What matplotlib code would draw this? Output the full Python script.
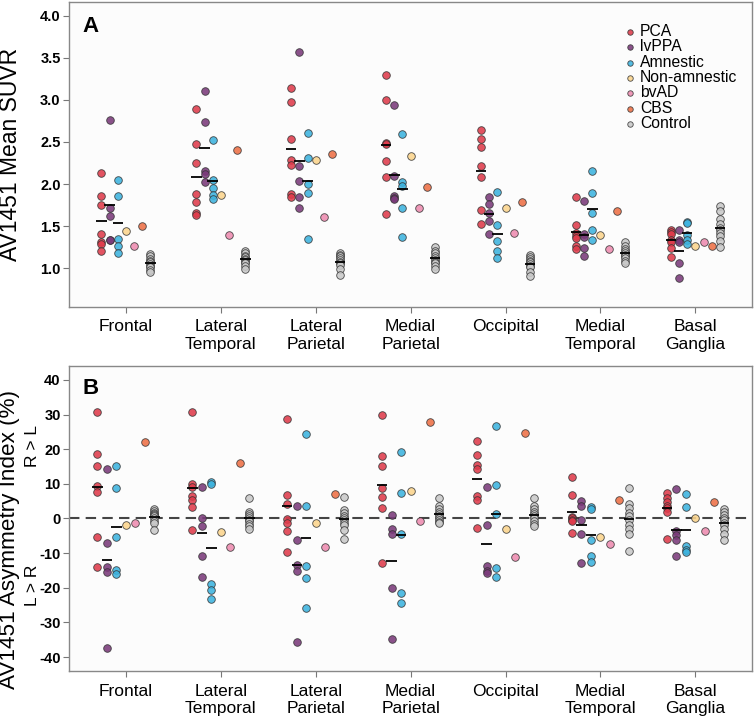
import matplotlib
matplotlib.use("Agg")
import matplotlib.pyplot as plt
import numpy as np

plt.rcParams["font.family"] = ["Liberation Sans", "DejaVu Sans"]
plt.rcParams["axes.unicode_minus"] = False

regions = ["Frontal", "Lateral\nTemporal", "Lateral\nParietal", "Medial\nParietal",
           "Occipital", "Medial\nTemporal", "Basal\nGanglia"]
groups = ["PCA", "lvPPA", "Amnestic", "Non-amnestic", "bvAD", "CBS", "Control"]
colors = ["#df3b4b", "#7a3a7a", "#3db3df", "#fbd58d", "#ee8bb0", "#ee7046", "#c9c9c9"]

# AV1451 mean SUVR, one list per region
suvr_pca = [[2.13, 1.86, 1.75, 1.41, 1.31, 1.29, 1.20],
            [2.89, 2.48, 2.25, 1.88, 1.79, 1.66, 1.63],
            [3.14, 2.98, 2.53, 2.29, 2.23, 1.88, 1.85],
            [3.30, 3.00, 2.49, 2.47, 2.27, 2.08, 1.65],
            [2.64, 2.54, 2.44, 2.21, 2.08, 1.69, 1.52],
            [1.85, 1.51, 1.42, 1.38, 1.36, 1.27, 1.23],
            [1.46, 1.43, 1.41, 1.33, 1.31, 1.24, 1.13]]
suvr_lvppa = [[2.76, 1.71, 1.62, 1.33, 1.33],
              [3.11, 2.74, 2.16, 2.12, 2.03],
              [3.57, 2.21, 2.04, 1.85, 1.72],
              [2.94, 2.10, 1.86, 1.84, 1.82],
              [1.85, 1.76, 1.66, 1.56, 1.41],
              [1.80, 1.41, 1.37, 1.24, 1.15],
              [1.46, 1.34, 1.31, 1.06, 0.88]]
suvr_amn = [[2.05, 1.86, 1.35, 1.27, 1.18],
            [2.52, 2.05, 1.95, 1.87, 1.82],
            [2.61, 2.31, 2.00, 1.89, 1.35],
            [2.59, 2.03, 1.98, 1.72, 1.37],
            [1.91, 1.51, 1.32, 1.20, 1.12],
            [2.15, 1.89, 1.66, 1.46, 1.33],
            [1.55, 1.54, 1.39, 1.33, 1.29]]
suvr_nonamn = [[1.44], [1.87], [2.29], [2.33], [1.71], [1.39], [1.27]]
suvr_bvad = [[1.27], [1.40], [1.61], [1.71], [1.42], [1.23], [1.31]]
suvr_cbs = [[1.50], [2.40], [2.36], [1.96], [1.79], [1.68], [1.27]]
suvr_ctrl = [[1.17, 1.14, 1.11, 1.09, 1.07, 1.05, 1.03, 1.01, 0.98, 0.95],
             [1.21, 1.18, 1.15, 1.13, 1.11, 1.10, 1.08, 1.06, 1.03, 0.99],
             [1.18, 1.16, 1.14, 1.12, 1.10, 1.08, 1.06, 1.04, 0.99, 0.92],
             [1.25, 1.21, 1.18, 1.14, 1.12, 1.10, 1.08, 1.06, 1.03, 0.99],
             [1.16, 1.13, 1.11, 1.09, 1.07, 1.05, 1.03, 1.01, 0.96, 0.91],
             [1.31, 1.27, 1.23, 1.20, 1.18, 1.16, 1.14, 1.12, 1.09, 1.06],
             [1.74, 1.68, 1.58, 1.52, 1.48, 1.45, 1.42, 1.38, 1.32, 1.25]]

# AV1451 asymmetry index (%), one list per region
asym_pca = [[30.8, 18.7, 15.2, 9.5, 7.6, -5.3, -13.9],
            [30.7, 10.0, 9.0, 6.6, 5.2, 3.3, -3.2],
            [28.8, 6.8, 4.1, -0.1, -1.2, -3.5, -9.7],
            [29.9, 18.0, 15.2, 8.8, 6.1, 3.0, -12.8],
            [22.4, 18.2, 15.3, 14.3, 6.6, 5.3, -2.7],
            [12.0, 6.8, 0.5, 0.0, -0.3, -0.8, -4.3],
            [7.4, 6.0, 4.7, 3.5, 3.0, 1.8, -5.8]]
asym_lvppa = [[14.3, -7.0, -13.9, -15.4, -37.4],
              [9.0, 0.1, -2.2, -10.9, -16.8],
              [3.7, -6.1, -13.5, -15.2, -35.5],
              [1.0, -3.0, -4.6, -20.0, -34.9],
              [9.2, -2.0, -13.7, -15.2, -15.8],
              [5.0, 3.7, -0.3, -4.4, -12.8],
              [8.6, -3.7, -4.9, -6.1, -10.9]]
asym_amn = [[15.1, 8.8, -5.4, -14.9, -15.9],
            [10.5, 10.0, -18.8, -20.5, -23.1],
            [24.5, 3.7, -13.7, -17.3, -25.9],
            [19.2, 7.4, -4.4, -21.6, -24.3],
            [26.7, 9.7, 1.2, -14.4, -16.8],
            [3.3, 2.6, -6.3, -10.9, -12.6],
            [7.1, 3.2, -8.0, -9.0, -9.7]]
asym_nonamn = [[-1.9], [-3.8], [-1.2], [7.8], [-2.9], [-5.3], [0.2]]
asym_bvad = [[-1.4], [-8.2], [-8.1], [-0.8], [-11.2], [-7.3], [-3.5]]
asym_cbs = [[22.1], [15.9], [7.2], [27.8], [24.7], [5.3], [4.7]]
asym_ctrl = [[2.6, 2.1, 1.6, 1.2, 0.9, 0.6, 0.2, -0.6, -1.3, -3.4],
             [5.9, 2.0, 1.2, 0.6, 0.2, -0.3, -0.8, -1.5, -2.2, -3.0],
             [6.3, 2.5, 1.5, 0.8, 0.2, -0.5, -1.3, -2.0, -3.2, -5.9],
             [5.8, 3.6, 2.6, 1.8, 1.2, 0.6, 0.0, -0.5, -0.9, -1.2],
             [6.0, 3.5, 2.6, 1.8, 1.2, 0.6, 0.0, -0.8, -1.5, -2.2],
             [8.7, 4.2, 3.0, 1.6, 0.6, -0.5, -1.9, -3.0, -4.6, -9.4],
             [2.6, 1.8, 1.0, 0.2, -0.5, -1.2, -2.0, -3.0, -4.5, -6.1]]

suvr = [suvr_pca, suvr_lvppa, suvr_amn, suvr_nonamn, suvr_bvad, suvr_cbs, suvr_ctrl]
asym = [asym_pca, asym_lvppa, asym_amn, asym_nonamn, asym_bvad, asym_cbs, asym_ctrl]


def draw_panel(ax, data, step):
    for g, (per_region, col) in enumerate(zip(data, colors)):
        for r, vals in enumerate(per_region):
            x = r + (g - 3) * step
            ax.scatter(np.full(len(vals), x), vals, s=30, color=col, edgecolor="#333333",
                       linewidth=0.6, alpha=0.88, zorder=3,
                       label=groups[g] if r == 0 else None)
            if len(vals) > 1:  # group mean
                ax.hlines(np.mean(vals), x - 0.055, x + 0.055, color="black", lw=1.3, zorder=4)
    ax.set_facecolor("#fcfcfc")
    ax.set_xlim(-0.6, 6.6)
    ax.set_xticks(range(len(regions)))
    ax.set_xticklabels(regions, fontsize=12.5, linespacing=1.2)
    ax.tick_params(axis="x", length=4, pad=5, color="#777777")
    ax.tick_params(axis="y", length=4, pad=2, color="#777777", labelsize=10.5)
    for lab in ax.get_yticklabels():
        lab.set_fontweight("bold")
    for sp in ax.spines.values():
        sp.set_color("#888888")
        sp.set_linewidth(1)


fig = plt.figure(figsize=(7.55, 7.24), dpi=100)
ax1 = fig.add_axes([0.0914, 0.576, 0.905, 0.421])
ax2 = fig.add_axes([0.0914, 0.0732, 0.905, 0.4213])

ax1.set_ylim(0.54, 4.16)
ax1.set_yticks(np.arange(1.0, 4.01, 0.5))
ax1.set_yticklabels(["%.1f" % t for t in np.arange(1.0, 4.01, 0.5)])
draw_panel(ax1, suvr, 0.086)
ax1.set_ylabel("AV1451 Mean SUVR", fontsize=16.5)
ax1.yaxis.set_label_coords(-0.069, 0.5)
ax1.text(0.02, 0.955, "A", transform=ax1.transAxes, fontsize=16, fontweight="bold", va="top")
ax1.legend(loc="upper left", bbox_to_anchor=(0.813, 0.928), frameon=False, fontsize=11.3,
           borderaxespad=0, borderpad=0, handlelength=0.7, handletextpad=0.3,
           labelspacing=0.02, markerscale=0.72)

ax2.set_ylim(-44, 44)
ax2.set_yticks(range(-40, 41, 10))
ax2.axhline(0, color="#444444", lw=1.5, ls=(0, (5, 3)), zorder=2)
draw_panel(ax2, asym, 0.1)
ax2.set_ylabel("AV1451 Asymmetry Index (%)", fontsize=16.2)
ax2.yaxis.set_label_coords(-0.072, 0.43)
ax2.text(-0.053, 0.738, "R > L", transform=ax2.transAxes, fontsize=12.5, rotation=90,
         ha="center", va="center")
ax2.text(-0.053, 0.28, "L > R", transform=ax2.transAxes, fontsize=12.5, rotation=90,
         ha="center", va="center")
ax2.text(0.02, 0.96, "B", transform=ax2.transAxes, fontsize=16, fontweight="bold", va="top")

fig.savefig("out.png", dpi=100)
